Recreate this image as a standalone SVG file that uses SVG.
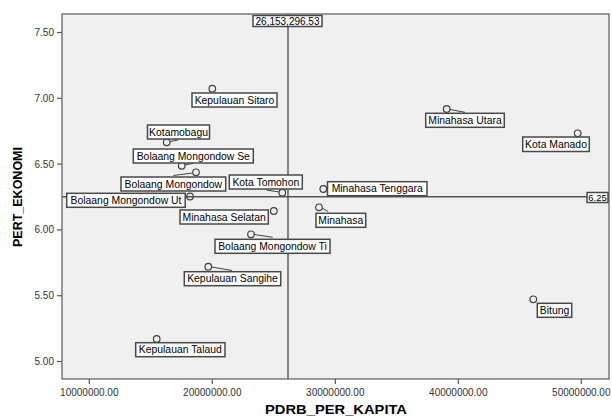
<svg xmlns="http://www.w3.org/2000/svg" width="612" height="417" viewBox="0 0 612 417">
<style>
text{font-family:"Liberation Sans",Arial,sans-serif}
.tick{font-size:10px;fill:#333}
.ttl{font-size:13.5px;font-weight:bold;fill:#000}
.box{fill:#fff;stroke:#484848;stroke-width:1.5}
.lbl{font-size:10.4px;fill:#000;text-anchor:middle}
.pt{fill:none;stroke:#404040;stroke-width:1.2}
.ldr{stroke:#404040;stroke-width:1;fill:none}
.ref{stroke:#555;stroke-width:1.4}
.ax{stroke:#555;stroke-width:1.2}
</style>
<rect x="0" y="0" width="612" height="417" fill="#fff"/>
<rect x="62" y="14" width="547" height="365" fill="#f0f0f0" stroke="#666" stroke-width="1.3"/>
<g id="axes">
<g class="ax">
<line x1="57" y1="32.5" x2="62" y2="32.5"/>
<line x1="57" y1="98.3" x2="62" y2="98.3"/>
<line x1="57" y1="164.1" x2="62" y2="164.1"/>
<line x1="57" y1="229.9" x2="62" y2="229.9"/>
<line x1="57" y1="295.7" x2="62" y2="295.7"/>
<line x1="57" y1="361.5" x2="62" y2="361.5"/>
<line x1="89.3" y1="379" x2="89.3" y2="384"/>
<line x1="212.3" y1="379" x2="212.3" y2="384"/>
<line x1="335.3" y1="379" x2="335.3" y2="384"/>
<line x1="458.3" y1="379" x2="458.3" y2="384"/>
<line x1="581.3" y1="379" x2="581.3" y2="384"/>
</g>
<g class="tick" text-anchor="end">
<text x="54" y="36">7.50</text>
<text x="54" y="101.8">7.00</text>
<text x="54" y="167.6">6.50</text>
<text x="54" y="233.4">6.00</text>
<text x="54" y="299.2">5.50</text>
<text x="54" y="365">5.00</text>
</g>
<g class="tick" text-anchor="middle">
<text x="89.3" y="395.5">10000000.00</text>
<text x="212.3" y="395.5">20000000.00</text>
<text x="335.3" y="395.5">30000000.00</text>
<text x="458.3" y="395.5">40000000.00</text>
<text x="581.3" y="395.5">50000000.00</text>
</g>
<text class="ttl" x="336" y="414" text-anchor="middle" textLength="142" lengthAdjust="spacingAndGlyphs">PDRB_PER_KAPITA</text>
<text class="ttl" x="0" y="0" text-anchor="middle" transform="translate(22 197) rotate(-90)" textLength="100" lengthAdjust="spacingAndGlyphs">PERT_EKONOMI</text>
</g>
<g id="reference-lines">
<line class="ref" x1="288" y1="14" x2="288" y2="379"/>
<line class="ref" x1="62" y1="196.8" x2="609" y2="196.8"/>
<rect class="box" x="253" y="15.5" width="69" height="11"/>
<text x="287.5" y="24.5" font-size="10" text-anchor="middle" fill="#000">26,153,296.53</text>
<rect class="box" x="587" y="192.5" width="21" height="10"/>
<text x="597.5" y="201" font-size="9.5" text-anchor="middle" fill="#000">6.25</text>
</g>
<g id="connectors">
<line class="ldr" x1="170" y1="141.5" x2="178" y2="140"/>
<line class="ldr" x1="185" y1="165" x2="193.3" y2="163.3"/>
<line class="ldr" x1="192.7" y1="173" x2="173.3" y2="175.5"/>
<line class="ldr" x1="279" y1="192" x2="266.7" y2="190"/>
<line class="ldr" x1="322" y1="208" x2="328.3" y2="211.7"/>
<line class="ldr" x1="254.3" y1="234.5" x2="272.7" y2="237.3"/>
<line class="ldr" x1="211.6" y1="267" x2="232" y2="270.5"/>
<line class="ldr" x1="450" y1="109.5" x2="465" y2="112.3"/>
</g>
<g id="kepulauan-sitaro">
<circle class="pt" cx="212.3" cy="88.7" r="3.3"/>
<rect class="box" x="192" y="93" width="85" height="14"/>
<text class="lbl" x="234.5" y="103.7">Kepulauan Sitaro</text>
</g>
<g id="kotamobagu">
<circle class="pt" cx="166.7" cy="142.3" r="3.3"/>
<rect class="box" x="147.5" y="125" width="62" height="14"/>
<text class="lbl" x="178.5" y="135.7">Kotamobagu</text>
</g>
<g id="bolaang-mongondow-se">
<circle class="pt" cx="181.7" cy="165.8" r="3.3"/>
<rect class="box" x="133.3" y="149" width="120" height="14"/>
<text class="lbl" x="193.3" y="159.7">Bolaang Mongondow Se</text>
</g>
<g id="bolaang-mongondow">
<circle class="pt" cx="196" cy="172.3" r="3.3"/>
<rect class="box" x="121" y="177" width="104.7" height="14"/>
<text class="lbl" x="173.3" y="187.7">Bolaang Mongondow</text>
</g>
<g id="bolaang-mongondow-ut">
<circle class="pt" cx="190" cy="196.5" r="3.3"/>
<rect class="box" x="66.7" y="193.3" width="118.5" height="14"/>
<text class="lbl" x="126" y="204">Bolaang Mongondow Ut</text>
</g>
<g id="kota-tomohon">
<circle class="pt" cx="282.3" cy="192.7" r="3.3"/>
<rect class="box" x="229.3" y="175" width="73" height="14"/>
<text class="lbl" x="265.8" y="185.7">Kota Tomohon</text>
</g>
<g id="minahasa-tenggara">
<circle class="pt" cx="323.3" cy="189" r="3.3"/>
<rect class="box" x="327.5" y="181.7" width="99.5" height="14"/>
<text class="lbl" x="377.2" y="192.4">Minahasa Tenggara</text>
</g>
<g id="minahasa-selatan">
<circle class="pt" cx="273.8" cy="211" r="3.3"/>
<rect class="box" x="180" y="210" width="88.3" height="14"/>
<text class="lbl" x="224.2" y="220.7">Minahasa Selatan</text>
</g>
<g id="minahasa">
<circle class="pt" cx="319" cy="207.3" r="3.3"/>
<rect class="box" x="316" y="213.3" width="49.7" height="14"/>
<text class="lbl" x="340.8" y="224">Minahasa</text>
</g>
<g id="bolaang-mongondow-ti">
<circle class="pt" cx="251" cy="234.3" r="3.3"/>
<rect class="box" x="215" y="239.3" width="115" height="14"/>
<text class="lbl" x="272.5" y="250">Bolaang Mongondow Ti</text>
</g>
<g id="kepulauan-sangihe">
<circle class="pt" cx="208.3" cy="266.7" r="3.3"/>
<rect class="box" x="184.3" y="271.7" width="96.4" height="14"/>
<text class="lbl" x="232.5" y="282.4">Kepulauan Sangihe</text>
</g>
<g id="kepulauan-talaud">
<circle class="pt" cx="156.7" cy="339" r="3.3"/>
<rect class="box" x="135.7" y="342.7" width="89.3" height="14"/>
<text class="lbl" x="180.3" y="353.4">Kepulauan Talaud</text>
</g>
<g id="minahasa-utara">
<circle class="pt" cx="446.7" cy="109" r="3.3"/>
<rect class="box" x="425.7" y="113.3" width="78.6" height="14"/>
<text class="lbl" x="465" y="124">Minahasa Utara</text>
</g>
<g id="kota-manado">
<circle class="pt" cx="577.7" cy="133.3" r="3.3"/>
<rect class="box" x="522.7" y="137" width="66.6" height="14.5"/>
<text class="lbl" x="556" y="148">Kota Manado</text>
</g>
<g id="bitung">
<circle class="pt" cx="533.3" cy="299.3" r="3.3"/>
<rect class="box" x="537.3" y="303.3" width="34.4" height="14"/>
<text class="lbl" x="554.5" y="314">Bitung</text>
</g>
</svg>
